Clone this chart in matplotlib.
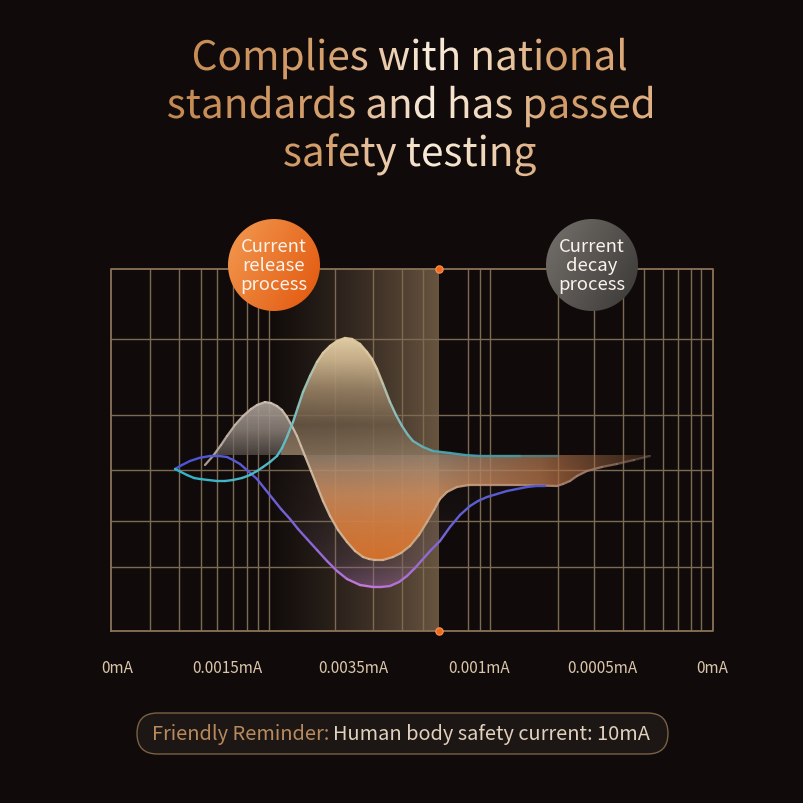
import numpy as np
import matplotlib
matplotlib.use('Agg')
import matplotlib.pyplot as plt
from matplotlib.patches import Polygon, Circle, FancyBboxPatch, PathPatch
from matplotlib.collections import LineCollection
from matplotlib.textpath import TextPath
from matplotlib.font_manager import FontProperties
from matplotlib.transforms import Affine2D

plt.rcParams['font.family'] = ['Noto Sans CJK SC', 'DejaVu Sans']

# ---- data (time units along the grid, amplitude relative to the middle grid line) ----
title_lines = ['Complies with national', 'standards and has passed', 'safety testing']
tick_pos = [6, 116, 242, 368, 491, 601]
tick_labels = ['0mA', '0.0015mA', '0.0035mA', '0.001mA', '0.0005mA', '0mA']
release_label = 'Current\nrelease\nprocess'
decay_label = 'Current\ndecay\nprocess'
reminder_head = 'Friendly Reminder:'
reminder_body = 'Human body safety current: 10mA'

cyan_x = [64, 70, 76, 83, 89, 97, 106, 114, 122, 131, 139, 146, 152, 159, 166, 171, 176, 182, 187,
          192, 199, 206, 212, 219, 226, 234, 241, 249, 256, 261, 266, 272, 279, 285, 291, 297, 302,
          312, 322, 339, 354, 369, 409, 447]
cyan_y = [1, -2, -5, -8, -9, -10, -11, -11, -10, -8, -5, -1, 3, 8, 14, 22, 33, 48, 63,
          78, 94, 108, 117, 124, 129, 132, 131, 126, 118, 111, 101, 86, 68, 55, 44, 35, 29,
          23, 19, 17, 15, 14, 14, 14]

gray_x = [94, 102, 110, 116, 124, 132, 140, 146, 154, 160, 166, 171, 176, 181, 186, 190, 194, 200,
          206, 212, 219, 227, 236, 244, 252, 258, 264, 272, 282, 290, 299, 308, 316, 323, 329, 336,
          346, 358, 369, 409, 446, 452, 459, 466, 476, 491, 506, 523, 539]
gray_y = [5, 14, 25, 34, 45, 54, 61, 65, 68, 67, 64, 60, 53, 44, 34, 24, 14, -1,
          -16, -31, -46, -60, -72, -81, -87, -89, -90, -90, -87, -83, -76, -65, -52, -40, -29, -22,
          -17, -15, -15, -15, -16, -14, -11, -6, -1, 3, 6, 10, 14]

purple_x = [64, 71, 79, 88, 99, 108, 116, 122, 129, 137, 146, 154, 162, 170, 179, 187, 196, 206,
            216, 226, 236, 249, 262, 270, 279, 288, 296, 304, 312, 320, 329, 334, 339, 344, 349,
            359, 367, 376, 386, 396, 406, 416, 425, 434]
purple_y = [1, 5, 9, 12, 14, 14, 13, 10, 6, -1, -9, -19, -29, -39, -49, -59, -69, -80,
            -91, -101, -109, -115, -117, -117, -116, -112, -106, -98, -89, -80, -71, -64, -57, -51, -45,
            -36, -31, -27, -24, -21, -19, -17, -16, -16]

grid_vx = [39, 68, 90, 106, 122, 136, 147, 158, 224, 262, 291, 312, 357, 369, 379,
           447, 483, 512, 533, 552, 567, 580, 590]
grid_hy = [131, 55, 0, -51, -97]

bg = '#100b0a'
grid_c = '#7d6a52'
split = 15

fig = plt.figure(figsize=(8.04, 8.04), dpi=100, facecolor=bg)

# background overlay in pixel coordinates
ov = fig.add_axes([0, 0, 1, 1])
ov.set_xlim(0, 804)
ov.set_ylim(804, 0)
ov.axis('off')
ov.set_facecolor(bg)


def hex2rgb(h):
    h = h.lstrip('#')
    return np.array([int(h[i:i + 2], 16) / 255 for i in (0, 2, 4)])


def ramp(pos, stops, colors):
    cols = np.array([hex2rgb(c) for c in colors])
    return np.stack([np.interp(pos, stops, cols[:, k]) for k in range(3)], axis=-1)


# ---- title with horizontal gold gradient ----
fp = FontProperties(family='Noto Sans CJK SC')
w_ref = TextPath((0, 0), title_lines[1], size=1, prop=fp).get_extents().width
tsize = 484 / w_ref
gx = np.linspace(150, 680, 400)
gcol = ramp(gx, [150, 330, 430, 490, 560, 680],
            ['#c1864f', '#d7a16e', '#faeddd', '#f0d6b8', '#d29a66', '#e4b88d'])
for i, line in enumerate(title_lines):
    tp = TextPath((0, 0), line, size=tsize, prop=fp)
    ext = tp.get_extents()
    x0 = 410 - ext.width / 2 - ext.x0
    base = 71 + 48 * i
    tr = Affine2D().scale(1, -1).translate(x0, base) + ov.transData
    patch = PathPatch(tp, transform=tr, fc='none', ec='none')
    ov.add_patch(patch)
    im = ov.imshow(gcol[np.newaxis, :, :], extent=(150, 680, base + 20, base - 45),
                   aspect='auto', interpolation='bilinear', zorder=3)
    im.set_clip_path(patch)
ov.set_xlim(0, 804)
ov.set_ylim(804, 0)

# ---- reminder box ----
box = FancyBboxPatch((137, 714), 531, 41, boxstyle='round,pad=0,rounding_size=20.5',
                     fc='#1c1715', ec='#7c5f45', lw=1.0)
ov.add_patch(box)
t1 = ov.text(152, 735, reminder_head, color='#b98a5e', fontsize=14.4, va='center', ha='left')
ov.annotate(reminder_body, xy=(1, 0.5), xycoords=t1, xytext=(2.5, 0), textcoords='offset points',
            color='#e2d1bc', fontsize=14.4, va='center', ha='left')

# ---- chart axes (1 data unit = 1 px) ----
ax = fig.add_axes([111 / 804, (804 - 632) / 804, 602 / 804, 362 / 804])
ax.set_facecolor('none')
XL, YL = (0, 602), (-161, 201)

# release band
bx = np.linspace(0, 1, 300)
band = np.zeros((1, 300, 4))
band[0, :, :3] = ramp(bx, [0, 1], ['#3e3228', '#735e47'])
band[0, :, 3] = 0.9 * bx ** 0.85
ax.imshow(band, extent=(158, 328, YL[0], YL[1]), aspect='auto', zorder=1, interpolation='bilinear')

# grid
for gxv in grid_vx:
    ax.axvline(gxv, color=grid_c, lw=1.0, zorder=2)
for gyv in grid_hy:
    ax.axhline(gyv, color=grid_c, lw=1.0, zorder=2)
ax.plot([XL[0], XL[1], XL[1], XL[0], XL[0]], [YL[0], YL[0], YL[1], YL[1], YL[0]],
        color='#8a7458', lw=1.3, zorder=2, clip_on=False)


def grad_poly(verts, img, extent, z):
    poly = Polygon(verts, closed=True, fc='none', ec='none')
    ax.add_patch(poly)
    im = ax.imshow(img, extent=extent, origin='lower', aspect='auto', zorder=z,
                   interpolation='bilinear')
    im.set_clip_path(poly)


def vgrad(y0, y1, stops, colors, alphas, nx=1, xalpha=None):
    ys = np.linspace(y0, y1, 200)
    img = np.zeros((200, nx, 4))
    img[:, :, :3] = ramp(ys, stops, colors)[:, None, :]
    a = np.interp(ys, stops, alphas)[:, None]
    if xalpha is not None:
        a = a * xalpha[None, :]
    img[:, :, 3] = a
    return img


cx, cy = np.array(cyan_x), np.array(cyan_y)
gx_, gy_ = np.array(gray_x), np.array(gray_y)
px, py = np.array(purple_x), np.array(purple_y)

# faint mauve veil between purple and gray curves
sel_p = (px >= 140) & (px <= 434)
sel_g = (gx_ >= 140) & (gx_ <= 434)
mv = list(zip(px[sel_p], py[sel_p])) + list(zip(gx_[sel_g][::-1], gy_[sel_g][::-1]))
grad_poly(mv, vgrad(-120, 15, [-120, -90, -40, 15], ['#b070c8', '#7a5a88', '#4a3c48', '#2a2224'],
                    [0.4, 0.2, 0.1, 0.05]),
          (140, 434, -120, 15), 3)

# orange trough below split line
ov_verts = list(zip(gx_, np.minimum(gy_, split))) + [(gx_[-1], split), (gx_[0], split)]
xs_o = np.linspace(190, 540, 300)
xa = np.interp(xs_o, [190, 330, 430, 540], [1, 1, 0.9, 0.25])
oimg = vgrad(-92, split, [-92, -60, -25, 0, split],
             ['#d8722c', '#d47c3e', '#ca8a5c', '#b08a6c', '#9a8470'],
             [0.97, 0.95, 0.92, 0.88, 0.85], nx=300, xalpha=xa)
# right tail turns deeper orange-brown
tail = np.clip((xs_o - 330) / 120, 0, 1)[None, :, None]
oimg[:, :, :3] = oimg[:, :, :3] * (1 - 0.6 * tail) + 0.6 * tail * hex2rgb('#a8582a')
grad_poly(ov_verts, oimg, (190, 540, -92, split), 4)

# gray hump above split line
gh = list(zip(gx_, np.maximum(gy_, split))) + [(gx_[-1], split), (gx_[0], split)]
grad_poly(gh, vgrad(split, 70, [split, 40, 70], ['#5e5650', '#8a8078', '#b0a59c'], [0.7, 0.88, 0.92]),
          (90, 200, split, 70), 4)

# cream peak above split line
cp = list(zip(cx, np.maximum(cy, split))) + [(cx[-1], split), (cx[0], split)]
grad_poly(cp, vgrad(split, 133, [split, 45, 80, 110, 133],
                    ['#8c7760', '#6e5c48', '#9a8366', '#cdb58e', '#e6d2aa'],
                    [0.85, 0.85, 0.9, 0.95, 0.97]),
          (170, 450, split, 133), 5)


def grad_line(xs, ys, stops, colors, lw, z, alpha_stops=None):
    pts = np.column_stack([xs, ys])
    segs = np.stack([pts[:-1], pts[1:]], axis=1)
    mid = (pts[:-1, 0] + pts[1:, 0]) / 2
    cols = np.zeros((len(mid), 4))
    cols[:, :3] = ramp(mid, stops, colors)
    cols[:, 3] = 1 if alpha_stops is None else np.interp(mid, alpha_stops[0], alpha_stops[1])
    lc = LineCollection(segs, colors=cols, linewidths=lw, zorder=z, capstyle='round',
                        joinstyle='round')
    ax.add_collection(lc)


grad_line(gx_, gy_, [94, 160, 250, 330, 460, 539],
          ['#b8aba0', '#d2c4b4', '#d9b794', '#cfa887', '#a88070', '#8a7060'], 1.6, 6,
          ([94, 480, 539], [0.9, 0.9, 0.4]))
grad_line(px, py, [64, 140, 200, 250, 300, 345, 434],
          ['#4a55d6', '#5a5ad6', '#8a66d4', '#c77ad8', '#a870d4', '#6060d4', '#5058cc'], 1.7, 7)
grad_line(cx, cy, [64, 170, 200, 210, 265, 285, 330, 447],
          ['#2fb4c6', '#58bccb', '#a8c4b4', '#ddc9a2', '#ddc9a2', '#8cc2c4', '#48aab6', '#3a8e98'], 1.7, 8,
          ([64, 400, 447], [1, 0.9, 0.35]))

# divider dots
ax.scatter([328, 328], [YL[1], YL[0]], s=28, color='#f06a1c', edgecolors='#ff9455', linewidths=0.8,
           zorder=9, clip_on=False)

ax.set_xlim(*XL)
ax.set_ylim(*YL)
ax.set_xticks(tick_pos, tick_labels)
ax.set_yticks([])
ax.tick_params(axis='x', length=0, pad=20, labelsize=11, labelcolor='#dcc6aa')
for s in ax.spines.values():
    s.set_visible(False)

# ---- top overlay: process bubbles ----
top = fig.add_axes([0, 0, 1, 1])
top.set_xlim(0, 804)
top.set_ylim(804, 0)
top.axis('off')
top.set_facecolor('none')


def bubble(cxp, cyp, r, c_light, c_dark, label):
    n = 120
    u = np.linspace(0, 1, n)
    uu, vv = np.meshgrid(u, u)
    t = np.clip(0.65 * uu + 0.35 * vv, 0, 1)
    img = ramp(t, [0, 1], [c_light, c_dark])
    circ = Circle((cxp, cyp), r, fc='none', ec='none')
    top.add_patch(circ)
    im = top.imshow(img, extent=(cxp - r, cxp + r, cyp + r, cyp - r), aspect='auto', zorder=3,
                    interpolation='bilinear')
    im.set_clip_path(circ)
    top.text(cxp, cyp, label, ha='center', va='center', color='#fbf4ec', fontsize=13.3,
             linespacing=1.08, zorder=4)


bubble(274, 266, 46, '#f39a52', '#e2560c', release_label)
bubble(592, 266, 46, '#75716c', '#3a3836', decay_label)
top.set_xlim(0, 804)
top.set_ylim(804, 0)

fig.savefig('out.png', dpi=100, facecolor=bg)
